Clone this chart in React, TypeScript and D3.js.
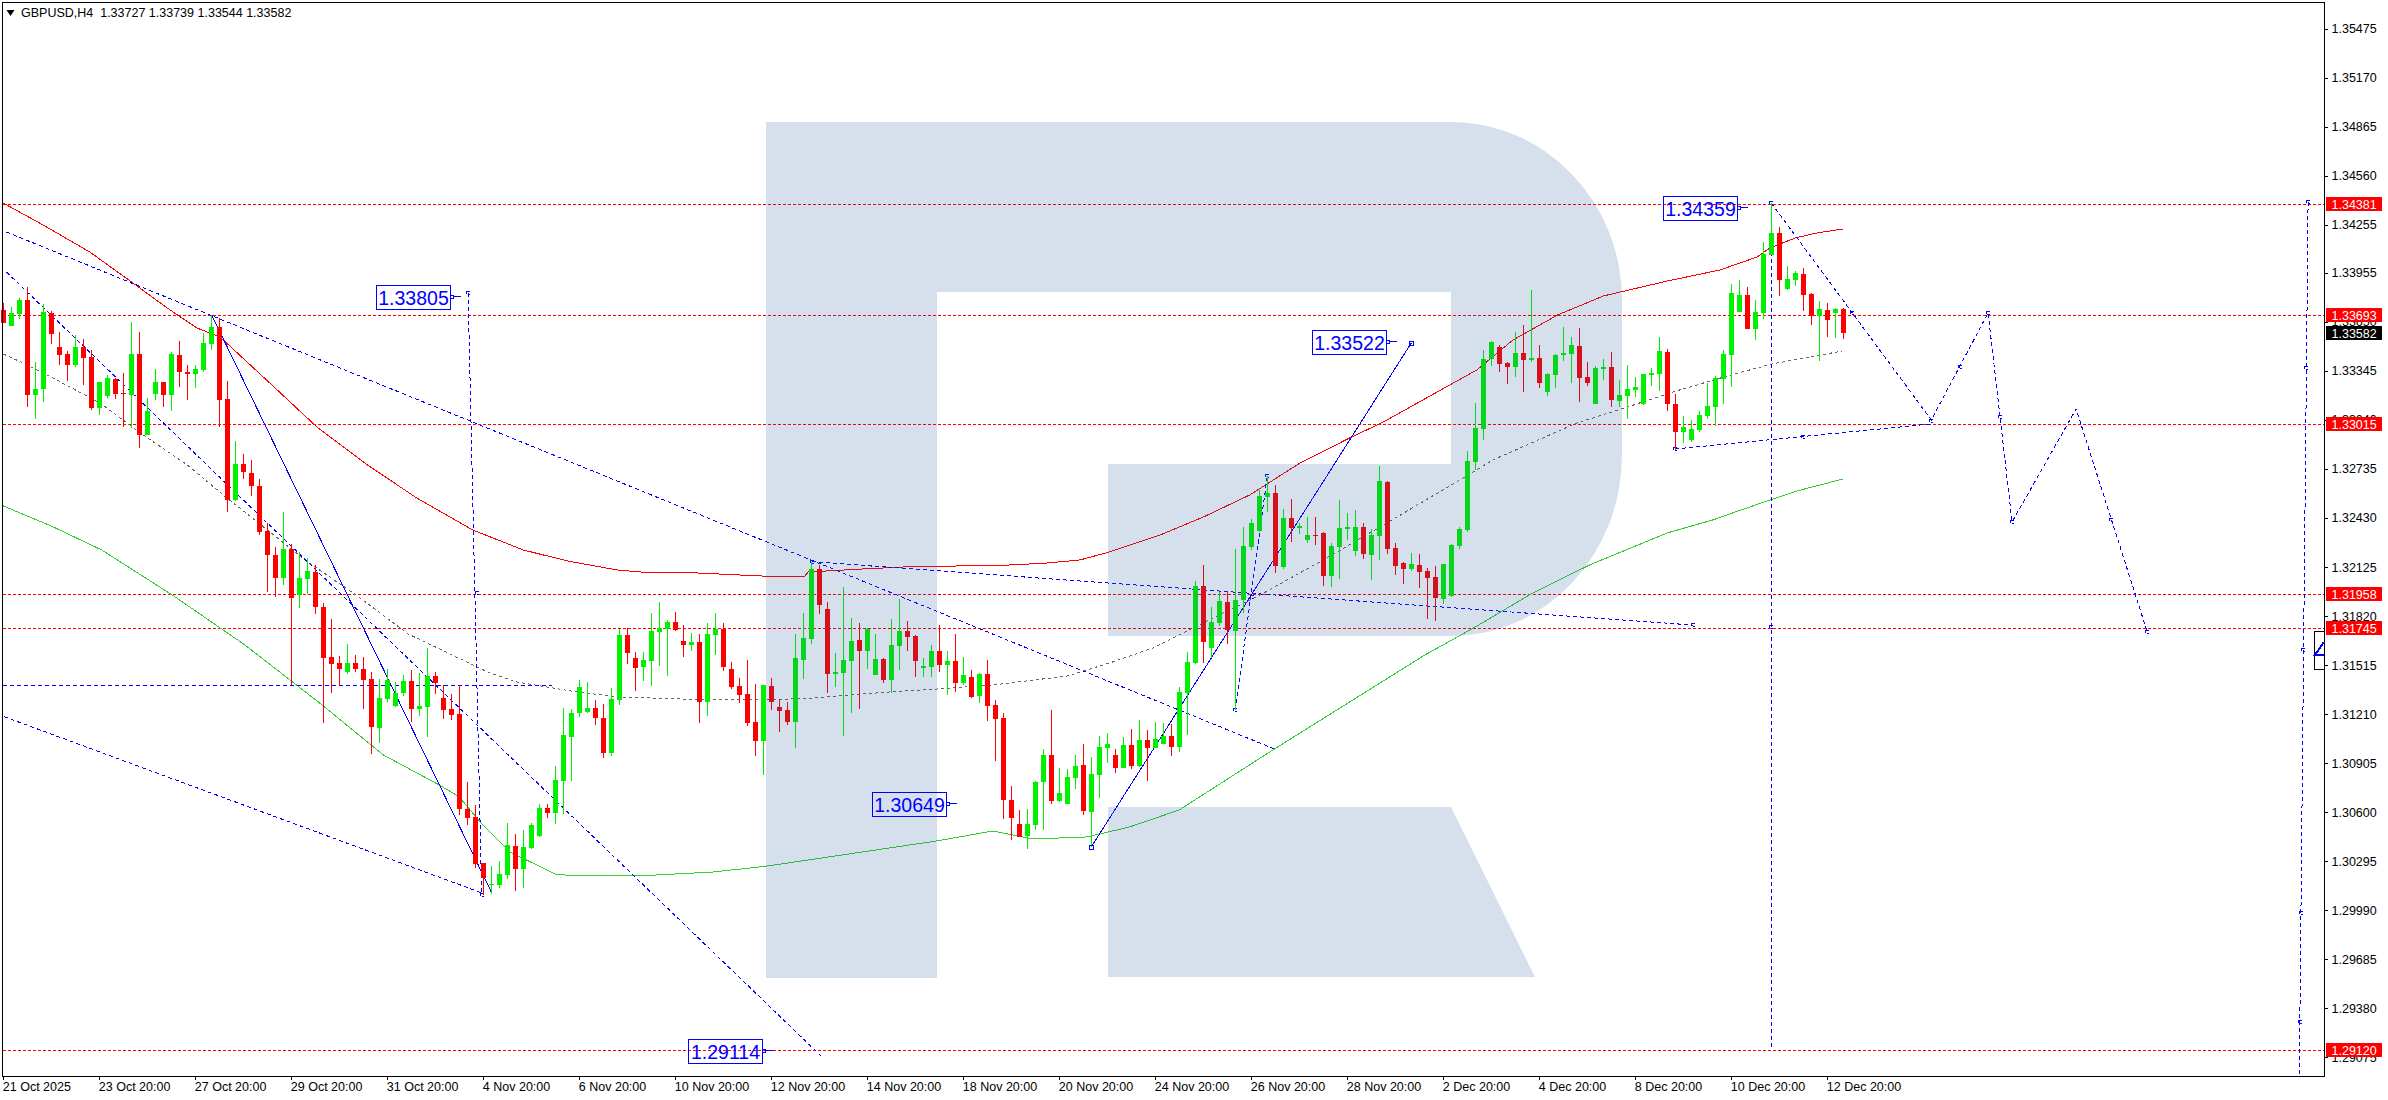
import React, { useEffect, useRef } from 'react';
import * as d3 from 'd3';

// prices are kept in points (1.33582 -> 133582)
const title = 'GBPUSD,H4  1.33727 1.33739 1.33544 1.33582';

const opens = [
  133724,133624,133699,133786,133195,133232,133705,133494,133450,133382,
  133494,133431,133114,133189,133295,133208,133195,133450,132946,133201,
  133276,133195,133444,133338,133326,133351,133512,133618,133170,132542,
  132766,132712,132632,132349,132200,132057,132237,131951,132051,132094,
  131876,131565,131528,131472,131528,131491,131429,131124,131304,131261,
  131342,131416,131242,131254,131447,131310,131242,131211,130620,130570,
  130284,130147,130147,130210,130390,130247,130378,130452,130626,130595,
  130794,131068,131217,131223,131248,131186,130968,131298,131702,131559,
  131503,131541,131721,131740,131783,131665,131640,131659,131286,131702,
  131740,131491,131385,131335,131161,131043,131385,131254,131236,131161,
  131547,131678,132113,131864,131460,131466,131540,131671,131603,131453,
  131553,131422,131634,131727,131696,131497,131503,131603,131515,131540,
  131401,131441,131323,131460,131267,131186,130676,130527,130452,130520,
  130788,130956,130670,130651,130813,130894,130601,130831,130999,130956,
  130875,131018,130887,131049,130999,131024,131074,131006,131340,131529,
  132008,131622,131777,131908,131728,131920,132250,132350,132561,132586,
  132126,132430,132368,132294,132325,132337,132070,132250,132362,132225,
  132374,132200,132319,132654,132244,132151,132113,132138,132101,132064,
  131927,131946,132257,132356,132779,132984,133420,133494,133395,133370,
  133457,133413,133426,133214,133320,133445,133451,133500,133308,133140,
  133357,133370,133158,133190,133227,133140,133320,133326,133463,133140,
  132966,132916,132978,133065,133121,133295,133444,133711,133817,133606,
  133705,134066,134203,133854,133910,133948,133823,133687,133724,133705,133727,
];
const highs = [
  133765,133740,133798,133865,133398,133759,133718,133587,133469,133568,
  133543,133475,133276,133320,133301,133332,133649,133587,133174,133357,
  133276,133463,133531,133382,133382,133581,133691,133674,133282,132909,
  132828,132793,132673,132399,132250,132467,132268,132219,132179,132138,
  131901,131802,131572,131646,131578,131565,131472,131429,131491,131410,
  131454,131485,131466,131621,131472,131391,131335,131391,130788,130645,
  130284,130266,130297,130533,130465,130489,130533,130651,130651,130888,
  131248,131242,131422,131410,131298,131273,131373,131740,131746,131597,
  131597,131839,131908,131796,131845,131764,131715,131709,131777,131839,
  131777,131534,131435,131547,131398,131391,131435,131304,131286,131709,
  131840,132157,132138,131907,131590,132001,131808,131777,131746,131708,
  131559,131802,131926,131789,131702,131559,131640,131764,131603,131708,
  131565,131484,131466,131547,131298,131217,130763,130614,130620,130794,
  130993,131236,130875,130869,130956,131024,130943,131074,131093,130993,
  131068,131118,131174,131111,131161,131157,131149,131379,131597,132039,
  132138,131877,131970,131976,132238,132374,132424,132605,132692,132636,
  132486,132549,132399,132437,132437,132343,132275,132542,132462,132480,
  132399,132362,132754,132661,132275,132157,132211,132207,132120,132132,
  132145,132269,132375,132847,133146,133476,133532,133507,133401,133588,
  133631,133849,133507,133333,133451,133619,133556,133612,133401,133376,
  133420,133463,133289,133382,133308,133326,133364,133556,133482,133202,
  133065,133040,133096,133270,133314,133476,133886,133910,133867,133786,
  134145,134387,134238,133997,133966,133985,133830,133780,133767,133736,133739,
];
const lows = [
  133641,133624,133670,133123,133048,133154,133512,133382,133282,133371,
  133257,133102,133073,133176,133170,132998,132992,132868,132946,133164,
  133120,133096,133245,133164,133239,133338,133475,132998,132467,132536,
  132673,132567,132324,131970,131939,132013,131391,131870,131957,131833,
  131155,131342,131385,131460,131472,131242,130962,131031,131286,131254,
  131323,131161,131198,131068,131335,131180,131174,130583,130521,130253,
  130085,130091,130129,130185,130110,130129,130371,130446,130564,130527,
  130589,130794,131192,131217,131143,130937,130950,131267,131522,131354,
  131416,131385,131510,131447,131727,131565,131603,131155,131198,131578,
  131478,131366,131279,131136,130950,130832,131236,131099,131143,130999,
  131429,131647,131833,131341,131379,131074,131217,131242,131491,131453,
  131404,131341,131484,131603,131441,131441,131441,131472,131329,131348,
  131391,131310,131279,131167,130918,130558,130427,130446,130371,130489,
  130489,130651,130663,130651,130744,130583,130383,130688,130906,130844,
  130875,130869,130881,130794,130999,131024,130950,130976,131081,131522,
  131529,131560,131759,131647,131236,131840,132231,132343,132468,132088,
  132113,132281,132331,132275,132262,132008,132001,132051,132294,132194,
  132175,132045,132169,132207,132076,132020,132101,131995,131802,131790,
  131896,131939,132238,132344,132729,132916,133376,133339,133264,133308,
  133214,133401,133239,133190,133239,133407,133270,133152,133252,133140,
  133289,133121,133121,133046,133183,133133,133252,133221,133096,132854,
  132897,132903,132966,133046,133003,133140,133247,133711,133606,133537,
  133668,134066,133811,133848,133873,133718,133631,133407,133556,133550,133544,
];
const closes = [
  133645,133703,133786,133195,133230,133711,133575,133444,133382,133494,
  133425,133114,133276,133301,133201,133201,133450,132946,133096,133276,
  133195,133450,133338,133326,133357,133519,133618,133164,132542,132764,
  132716,132629,132345,132200,132057,132237,131932,132057,132098,131876,
  131559,131522,131491,131528,131491,131422,131130,131310,131422,131342,
  131416,131242,131261,131447,131404,131236,131205,130620,130564,130278,
  130191,130154,130216,130396,130247,130384,130521,130626,130595,130800,
  131080,131217,131379,131248,131186,130968,131304,131702,131590,131497,
  131547,131727,131746,131783,131733,131640,131659,131286,131709,131740,
  131503,131379,131329,131155,131043,131391,131286,131230,131161,131559,
  131684,132113,131890,131460,131472,131547,131665,131603,131739,131553,
  131422,131640,131727,131690,131540,131509,131603,131515,131540,131404,
  131453,131316,131460,131261,131180,130676,130564,130448,130527,130788,
  130956,130670,130719,130819,130887,130607,130838,131005,131024,130875,
  131018,130889,131049,130999,131055,131076,131008,131348,131535,132008,
  131659,131784,131914,131734,131920,132256,132399,132567,132586,132132,
  132430,132368,132381,132325,132319,132070,132256,132368,132374,132374,
  132207,132325,132661,132238,132132,132113,132145,132095,132057,131933,
  132145,132263,132362,132785,132990,133420,133525,133389,133370,133457,
  133413,133426,133270,133326,133445,133457,133507,133301,133270,133364,
  133370,133165,133196,133233,133245,133326,133333,133469,133140,132966,
  132997,132984,133071,133127,133301,133451,133827,133817,133606,133711,
  134072,134203,133910,133917,133954,133817,133687,133730,133662,133730,133582,
];

// moving averages, read at [bar, points]
const redMa = [
  [0,134389],[5,134252],[10.8,134085],[16.2,133892],[20.5,133736],[24.2,133612],[27.1,133556],[32.5,133307],
  [39.2,132996],[45.5,132760],[51.7,132554],[58.7,132355],[65,132231],[70.5,132163],[76.7,132107],[79.6,132094],
  [86.7,132088],[94.8,132069],[100.2,132069],[100.6,132094],[107.5,132113],[112.5,132125],[126.2,132138],
  [130.5,132150],[134.6,132169],[138.3,132219],[144.6,132324],[150,132436],[155.8,132573],[162.1,132772],
  [168.3,132928],[172.5,133027],[180.8,133257],[184.2,133351],[188.7,133537],[194.3,133693],[200,133811],
  [208,133904],[214.6,133973],[219.2,134053],[220.8,134109],[224,134172],[226.7,134203],[230,134228],
];
const greenMa = [
  [0,132505],[6,132380],[12.3,132231],[21.3,131945],[30.2,131640],[39.7,131273],[47.5,130956],[54.5,130769],
  [57,130695],[59.8,130527],[63.3,130353],[69.1,130213],[72,130203],[79.3,130203],[88.8,130228],[95.2,130263],
  [101.5,130309],[116.7,130421],[123.7,130483],[128.7,130433],[135.5,130446],[140.8,130508],[147,130614],
  [158.7,130987],[177.7,131578],[183.8,131746],[191.2,131964],[198.3,132138],[208,132337],[213.7,132418],
  [220.8,132542],[224.2,132598],[230,132673],
];
const greyMa = [
  [0,133450],[2.5,133394],[6.7,133288],[12.1,133145],[17.5,132946],[23,132760],[27.5,132573],[37.8,132166],
  [44.2,131947],[50.6,131709],[60.8,131466],[64.2,131410],[71.7,131348],[76.7,131317],[88.3,131298],[98.3,131304],
  [101.2,131310],[110.8,131348],[116.7,131366],[123.7,131391],[133,131447],[138.3,131528],[143.7,131621],
  [148.7,131746],[157.1,131951],[165,132169],[172.5,132386],[182.5,132679],[186.2,132791],[196.7,133021],
  [203,133120],[208.7,133214],[215.9,133319],[221.1,133388],[229.9,133469],
];

// drawn objects: dotted wave lines and solid swings
const dottedLines = [
  [[0.4,134209],[159.2,130987]],
  [[101.05,132158],[211.2,131764]],
  [[0.4,133960],[102.2,129084]],
  [[0.1,131194],[59.8,130098]],
  [[-0.1,131391],[68.6,131391]],
  [[58.1,133830],[59.8,130085]],
  [[154,131236],[158,132691]],
  [[221,134389],[241,133040],[248.1,133705],[251.1,132405],[259.1,133108],[268,131721]],
  [[208.96,132859],[241,133015]],
  [[221,134389],[221,129127]],
  [[288.1,134394],[287,128959]],
];
const solidLines = [
  [[26.05,133693],[61.05,130098]],
  [[136,130384],[176,133519]],
];
const dottedNodes = [
  [101.05,132158],[156.1,131939],[158,132691],[154,131236],[59.2,131965],[58.1,133830],[59.8,130085],
  [221,134389],[221,131752],[231.1,133705],[225,132934],[241,133033],[244.6,133369],[248.1,133705],
  [249.6,133058],[251.1,132405],[263.5,132418],[268,131721],[211.2,131764],[208.96,132859],
  [288.1,134394],[287.9,133363],[287.5,131609],[287.2,129973],[287.1,129295],
];
const solidNodes = [[136,130384],[176,133519]];

const levelValues = [134381, 133693, 133015, 131958, 131745, 129120];
const lastPrice = 133582;
const swingLabels = [
  { text: '1.33805', bar: 55.8, value: 133805 },
  { text: '1.34359', bar: 216.75, value: 134359 },
  { text: '1.33522', bar: 172.8, value: 133522 },
  { text: '1.30649', bar: 117.8, value: 130649 },
  { text: '1.29114', bar: 94.8, value: 129114 },
];

const priceTicks = [
  135475,135170,134865,134560,134255,133955,133650,133345,133040,132735,132430,
  132125,131820,131515,131210,130905,130600,130295,129990,129685,129380,129075,
];
const timeTicks = d3.range(0, 229, 12);
const timeLabels = [
  '21 Oct 2025','23 Oct 20:00','27 Oct 20:00','29 Oct 20:00','31 Oct 20:00','4 Nov 20:00','6 Nov 20:00',
  '10 Nov 20:00','12 Nov 20:00','14 Nov 20:00','18 Nov 20:00','20 Nov 20:00','24 Nov 20:00','26 Nov 20:00',
  '28 Nov 20:00','2 Dec 20:00','4 Dec 20:00','8 Dec 20:00','10 Dec 20:00','12 Dec 20:00',
];

const WIDTH = 2388;
const HEIGHT = 1100;
const FONT = '"Liberation Sans", Arial, sans-serif';
const BLUE = '#0000ff';
const RED = '#ff0000';
const LIME = '#00f000';

const frame = { left: 2.5, top: 2.5, right: 2324.5, bottom: 1076.5 };

// watermark letter, in page pixels
const watermark =
  'M766 122H1451A171 178 0 0 1 1622 300V455A171 181 0 0 1 1451 636H1108V464H1451V292H937V978H766Z' +
  'M1108 807H1451L1535 977H1108Z';

const chart = (svgNode: SVGSVGElement) => {
  const x = d3.scaleLinear().domain([0, 100]).range([3.3, 803.3]);
  const y = d3.scaleLinear().domain([129075, 135475]).range([1057.3, 28.5]);

  const svg = d3.select(svgNode);
  svg.selectAll('*').remove();

  const line = d3
    .line<number[]>()
    .x((d) => x(d[0]))
    .y((d) => y(d[1]));

  // levels
  svg
    .append('g')
    .attr('stroke', RED)
    .attr('stroke-dasharray', '3 2')
    .attr('shape-rendering', 'crispEdges')
    .selectAll('line')
    .data(levelValues)
    .join('line')
    .attr('x1', frame.left)
    .attr('x2', frame.right)
    .attr('y1', (d) => Math.round(y(d)) + 0.5)
    .attr('y2', (d) => Math.round(y(d)) + 0.5);

  // moving averages
  const maLayer = svg
    .append('g')
    .attr('fill', 'none')
    .attr('shape-rendering', 'crispEdges');
  maLayer.append('path').attr('d', line(redMa)).attr('stroke', RED);
  maLayer.append('path').attr('d', line(greenMa)).attr('stroke', '#32cd32');
  maLayer
    .append('path')
    .attr('d', line(greyMa))
    .attr('stroke', '#666')
    .attr('stroke-dasharray', '3 3');

  // drawn lines
  const objects = svg
    .append('g')
    .attr('fill', 'none')
    .attr('stroke', BLUE)
    .attr('shape-rendering', 'crispEdges');
  objects
    .selectAll('path.dot')
    .data(dottedLines)
    .join('path')
    .attr('class', 'dot')
    .attr('stroke-dasharray', '4 3')
    .attr('d', (d) => line(d));
  objects
    .selectAll('path.solid')
    .data(solidLines)
    .join('path')
    .attr('class', 'solid')
    .attr('d', (d) => line(d));
  objects
    .selectAll('rect.node')
    .data(dottedNodes)
    .join('rect')
    .attr('class', 'node')
    .attr('x', (d) => Math.round(x(d[0])) - 1.5)
    .attr('y', (d) => Math.round(y(d[1])) - 1.5)
    .attr('width', 3)
    .attr('height', 3)
    .attr('stroke-dasharray', '3 2');

  // candles
  const bars = d3.range(opens.length);
  const candles = svg
    .append('g')
    .attr('shape-rendering', 'crispEdges')
    .selectAll('g')
    .data(bars)
    .join('g')
    .attr('fill', (i) => (closes[i] >= opens[i] ? LIME : RED));
  candles
    .append('rect')
    .attr('x', (i) => Math.floor(x(i)))
    .attr('width', 1)
    .attr('y', (i) => Math.round(y(highs[i])))
    .attr('height', (i) => Math.max(1, Math.round(y(lows[i])) - Math.round(y(highs[i]))));
  candles
    .append('rect')
    .attr('x', (i) => Math.floor(x(i)) - 2)
    .attr('width', 5)
    .attr('y', (i) => Math.round(y(Math.max(opens[i], closes[i]))))
    .attr('height', (i) =>
      Math.max(1, Math.round(y(Math.min(opens[i], closes[i]))) - Math.round(y(Math.max(opens[i], closes[i])))),
    );

  // nodes of the two solid swings sit on top
  svg
    .append('g')
    .attr('fill', 'none')
    .attr('stroke', BLUE)
    .attr('shape-rendering', 'crispEdges')
    .selectAll('rect')
    .data(solidNodes)
    .join('rect')
    .attr('x', (d) => Math.round(x(d[0])) - 1.5)
    .attr('y', (d) => Math.round(y(d[1])) - 1.5)
    .attr('width', 4)
    .attr('height', 4);

  // logo goes over the candles and tints them
  svg
    .append('path')
    .attr('d', watermark)
    .attr('fill', 'rgb(37,89,153)')
    .attr('fill-opacity', 0.19);

  // swing labels
  const labels = svg
    .append('g')
    .selectAll('g')
    .data(swingLabels)
    .join('g')
    .attr('transform', (d) => `translate(${Math.round(x(d.bar))},${Math.round(y(d.value))})`);
  labels
    .append('rect')
    .attr('x', -73.5)
    .attr('y', -11.5)
    .attr('width', 74)
    .attr('height', 24)
    .attr('fill', 'none')
    .attr('stroke', BLUE)
    .attr('shape-rendering', 'crispEdges');
  labels
    .append('text')
    .attr('x', -36.5)
    .attr('y', 0.5)
    .attr('dy', '0.36em')
    .attr('text-anchor', 'middle')
    .attr('font-family', FONT)
    .attr('font-size', 19.5)
    .attr('fill', BLUE)
    .text((d) => d.text);
  labels
    .append('path')
    .attr('d', 'M0.5 -1.5h2.5v2.5h-2.5zM3 -0.5h8')
    .attr('fill', 'none')
    .attr('stroke', BLUE)
    .attr('shape-rendering', 'crispEdges');

  // frame
  svg
    .append('rect')
    .attr('x', frame.left)
    .attr('y', frame.top)
    .attr('width', frame.right - frame.left)
    .attr('height', frame.bottom - frame.top)
    .attr('fill', 'none')
    .attr('stroke', '#000')
    .attr('shape-rendering', 'crispEdges');

  // axes
  const yAxis = svg
    .append('g')
    .attr('transform', `translate(${frame.right},0)`)
    .call(
      d3
        .axisRight(y)
        .tickValues(priceTicks)
        .tickSize(3)
        .tickPadding(4)
        .tickFormat((d) => (Number(d) / 1e5).toFixed(5)),
    );
  yAxis.select('.domain').remove();
  yAxis.selectAll('text').attr('font-family', FONT).attr('font-size', 12.5).attr('fill', '#000');
  yAxis.selectAll('line').attr('stroke', '#000').attr('shape-rendering', 'crispEdges');

  const xAxis = svg
    .append('g')
    .attr('transform', `translate(0,${frame.bottom})`)
    .call(
      d3
        .axisBottom(x)
        .tickValues(timeTicks)
        .tickSize(3)
        .tickPadding(3)
        .tickFormat((_, i) => timeLabels[i]),
    );
  xAxis.select('.domain').remove();
  xAxis
    .selectAll('text')
    .attr('font-family', FONT)
    .attr('font-size', 12.5)
    .attr('fill', '#000')
    .attr('text-anchor', 'start')
    .attr('x', -1);
  xAxis.selectAll('line').attr('stroke', '#000').attr('shape-rendering', 'crispEdges');

  // price tags over the axis
  const tags = svg
    .append('g')
    .selectAll('g')
    .data([...levelValues, lastPrice])
    .join('g')
    .attr('transform', (d) => `translate(2326,${Math.round(y(d))})`);
  tags
    .append('rect')
    .attr('y', -7)
    .attr('width', 56)
    .attr('height', 14)
    .attr('fill', (d) => (d === lastPrice ? '#000' : RED));
  tags
    .append('text')
    .attr('x', 5.5)
    .attr('dy', '0.36em')
    .attr('font-family', FONT)
    .attr('font-size', 12.5)
    .attr('fill', '#fff')
    .text((d) => (d / 1e5).toFixed(5));

  // title
  svg
    .append('path')
    .attr('d', 'M6.5 10H14.5L10.5 16Z')
    .attr('fill', '#000');
  svg
    .append('text')
    .attr('x', 21)
    .attr('y', 16.5)
    .attr('font-family', FONT)
    .attr('font-size', 12.5)
    .attr('xml:space', 'preserve')
    .style('white-space', 'pre')
    .text(title);

  // small object clipped by the right edge of the chart
  const clipped = svg.append('g').attr('shape-rendering', 'crispEdges');
  clipped
    .append('rect')
    .attr('x', 2314.5)
    .attr('y', 631.5)
    .attr('width', 10)
    .attr('height', 38)
    .attr('fill', '#fff')
    .attr('stroke', '#000');
  clipped
    .append('path')
    .attr('d', 'M2324 642L2315 655H2324')
    .attr('fill', 'none')
    .attr('stroke', BLUE)
    .attr('stroke-width', 2);
};

const App = () => {
  const ref = useRef<SVGSVGElement>(null);

  useEffect(() => {
    if (ref.current) {
      chart(ref.current);
    }
  }, []);

  return (
    <svg
      ref={ref}
      width={WIDTH}
      height={HEIGHT}
      viewBox={`0 0 ${WIDTH} ${HEIGHT}`}
      style={{ position: 'absolute', left: 0, top: 0, background: '#fff' }}
    />
  );
};

export default App;
